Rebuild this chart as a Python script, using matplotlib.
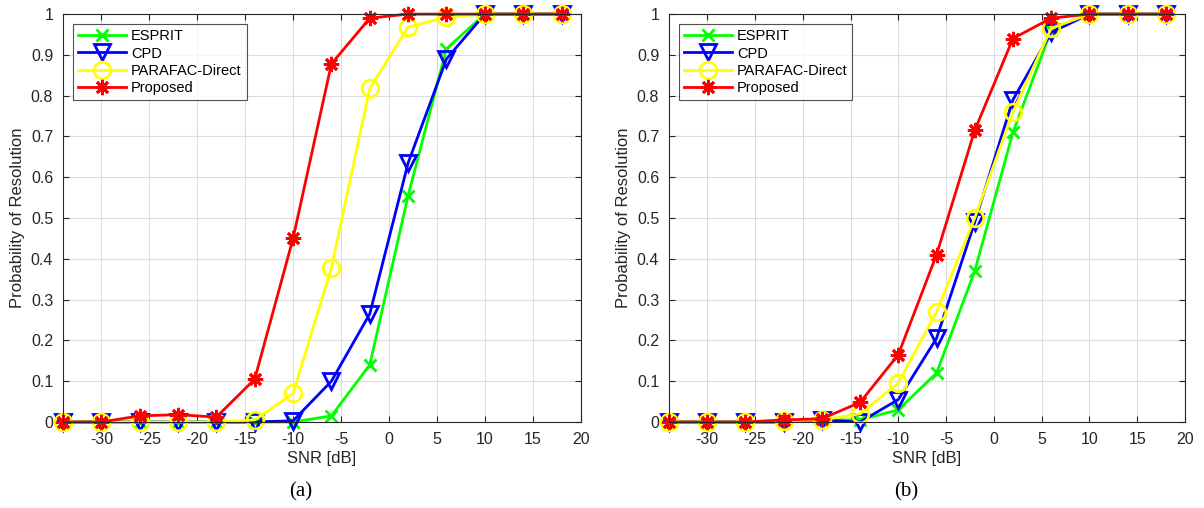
import matplotlib
matplotlib.use('Agg')
import matplotlib.pyplot as plt

plt.rcParams['font.family'] = ['Liberation Sans', 'DejaVu Sans']
plt.rcParams['axes.unicode_minus'] = False

snr = [-34, -30, -26, -22, -18, -14, -10, -6, -2, 2, 6, 10, 14, 18]
methods = ['ESPRIT', 'CPD', 'PARAFAC-Direct', 'Proposed']

# (a)
esprit_a = [0, 0, 0, 0, 0, 0, 0, 0.015, 0.14, 0.555, 0.915, 1, 1, 1]
cpd_a = [0, 0, 0, 0, 0, 0, 0.003, 0.10, 0.265, 0.635, 0.89, 1, 1, 1]
parafac_a = [0, 0, 0, 0, 0, 0.005, 0.07, 0.378, 0.818, 0.968, 0.993, 1, 1, 1]
proposed_a = [0, 0, 0.015, 0.018, 0.012, 0.105, 0.45, 0.878, 0.99, 1, 1, 1, 1, 1]

# (b)
esprit_b = [0, 0, 0, 0, 0.005, 0.005, 0.03, 0.12, 0.37, 0.71, 0.96, 1, 1, 1]
cpd_b = [0, 0, 0, 0, 0.005, 0.0, 0.055, 0.205, 0.49, 0.79, 0.955, 1, 1, 1]
parafac_b = [0, 0, 0, 0.003, 0.005, 0.02, 0.095, 0.27, 0.5, 0.76, 0.965, 1, 1, 1]
proposed_b = [0, 0, 0, 0.005, 0.008, 0.048, 0.165, 0.41, 0.715, 0.94, 0.99, 1, 1, 1]

styles = [
    dict(color=(0, 1, 0), marker='x', ms=9),
    dict(color=(0, 0, 1), marker='v', ms=12, mfc='none'),
    dict(color=(1, 1, 0), marker='o', ms=12, mfc='none'),
    dict(color=(1, 0, 0), marker=(8, 2, 0), ms=11),
]

fig = plt.figure(figsize=(12.04, 5.08), dpi=100)
ax_a = fig.add_axes([0.0523, 0.1693, 0.430, 0.803])
ax_b = fig.add_axes([0.5556, 0.1693, 0.4286, 0.803])

panels = [
    (ax_a, [esprit_a, cpd_a, parafac_a, proposed_a], '(a)'),
    (ax_b, [esprit_b, cpd_b, parafac_b, proposed_b], '(b)'),
]

for ax, series, cap in panels:
    for name, vals, st in zip(methods, series, styles):
        ax.plot(snr, vals, label=name, lw=2, mew=2, clip_on=False, **st)
    ax.set_xlim(-34, 20)
    ax.set_ylim(0, 1)
    ax.set_xticks(range(-30, 21, 5))
    ax.set_yticks([i / 10 for i in range(11)])
    ax.set_yticklabels(['0'] + [f'{i / 10:.1f}' for i in range(1, 10)] + ['1'])
    ax.grid(True, color='#dcdcdc', lw=0.8)
    ax.set_axisbelow(True)
    ax.tick_params(direction='in', top=True, right=True, labelsize=11.5,
                   colors='#262626', length=4)
    ax.tick_params(axis='x', pad=7)
    ax.tick_params(axis='y', pad=7)
    for s in ax.spines.values():
        s.set_color('#262626')
        s.set_linewidth(0.8)
    ax.set_xlabel('SNR [dB]', fontsize=12, color='#262626', labelpad=3)
    ax.set_ylabel('Probability of Resolution', fontsize=12, color='#262626', labelpad=4)
    leg = ax.legend(loc='upper left', fontsize=10.5, frameon=True, fancybox=False,
                    edgecolor='#262626', handlelength=3.3, handletextpad=0.3,
                    borderaxespad=0.7, borderpad=0.35, labelspacing=0.22)
    leg.get_frame().set_linewidth(0.8)
    ax.text(0.46, -0.172, cap, transform=ax.transAxes, ha='center', va='center',
            fontsize=15, family=['Liberation Serif', 'DejaVu Serif'])

fig.savefig('out.png', dpi=100)
